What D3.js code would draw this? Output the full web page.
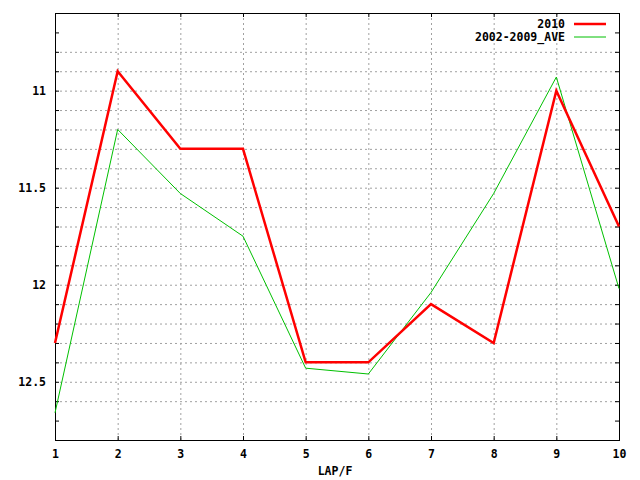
<!DOCTYPE html>
<html>
<head>
<meta charset="utf-8">
<script src="https://cdn.jsdelivr.net/npm/d3@7"></script>
<style>
  body { margin: 0; background: #fff; }
  text { font-family: "DejaVu Sans Mono", monospace; font-weight: bold; font-size: 11.5px; fill: #000; }
</style>
</head>
<body>
<svg id="chart" width="640" height="480"></svg>
<script>
var laps = [1, 2, 3, 4, 5, 6, 7, 8, 9, 10];
var series2010 = [12.3, 10.9, 11.3, 11.3, 12.4, 12.4, 12.1, 12.3, 11.0, 11.7];
var seriesAve = [12.66, 11.2, 11.53, 11.75, 12.43, 12.46, 12.04, 11.53, 10.93, 12.02];
var yTicks = [11, 11.5, 12, 12.5];
var seriesNames = ["2010", "2002-2009_AVE"];

var margin = {top: 13, right: 21, bottom: 40, left: 55},
    width = 640 - margin.left - margin.right,
    height = 480 - margin.top - margin.bottom;

var svg = d3.select("#chart");
var chart = svg.append("g")
    .attr("transform", "translate(" + margin.left + "," + margin.top + ")");

var x = d3.scaleLinear().domain([1, 10]).range([0, width]);
var y = d3.scaleLinear().domain([10.6, 12.8]).range([0, height]);

var minorTicks = d3.range(107, 128).map(function(d) { return d / 10; });

// grid
chart.append("g").selectAll("line.hgrid")
    .data(minorTicks.slice(1, -1))
    .enter().append("line")
    .attr("x1", 0).attr("x2", width)
    .attr("y1", function(d) { return y(d) + 0.5; })
    .attr("y2", function(d) { return y(d) + 0.5; })
    .attr("stroke", "#a0a0a0")
    .attr("stroke-dasharray", "2,3");

chart.append("g").selectAll("line.vgrid")
    .data(laps.slice(1, -1))
    .enter().append("line")
    .attr("x1", function(d) { return x(d) + 0.5; })
    .attr("x2", function(d) { return x(d) + 0.5; })
    .attr("y1", 0).attr("y2", height)
    .attr("stroke", "#a0a0a0")
    .attr("stroke-dasharray", "2,3");

// axes
var xBottom = chart.append("g").attr("transform", "translate(0," + height + ")")
    .call(d3.axisBottom(x).tickValues(laps).tickFormat(d3.format("d")).tickSizeInner(-4).tickSizeOuter(0).tickPadding(10));
var xTop = chart.append("g")
    .call(d3.axisTop(x).tickValues(laps).tickFormat("").tickSizeInner(-4).tickSizeOuter(0));
var yLeft = chart.append("g")
    .call(d3.axisLeft(y).tickValues(minorTicks).tickFormat(function(d) {
        return yTicks.indexOf(d) >= 0 ? d3.format("")(d) : "";
    }).tickSizeInner(-4).tickSizeOuter(0).tickPadding(9));
var yRight = chart.append("g").attr("transform", "translate(" + width + ",0)")
    .call(d3.axisRight(y).tickValues(minorTicks).tickFormat("").tickSizeInner(-4).tickSizeOuter(0));

[xBottom, xTop, yLeft, yRight].forEach(function(a) {
    a.select(".domain").remove();
    a.selectAll("line").attr("stroke", "#000");
    a.selectAll("text").style("font-family", "DejaVu Sans Mono, monospace").style("font-size", "11.5px").style("font-weight", "bold");
});

chart.append("rect")
    .attr("x", 0.5).attr("y", 0.5)
    .attr("width", width).attr("height", height)
    .attr("fill", "none").attr("stroke", "#000");

// lines
var line = d3.line()
    .x(function(d, i) { return x(laps[i]); })
    .y(function(d) { return y(d); });

chart.append("path").datum(seriesAve)
    .attr("d", line).attr("fill", "none")
    .attr("stroke", "#00c000").attr("stroke-width", 1);

chart.append("path").datum(series2010)
    .attr("d", line).attr("fill", "none")
    .attr("stroke", "#ff0000").attr("stroke-width", 2.5);

// legend
var legendColors = ["#ff0000", "#00c000"];
var legendWidths = [2.5, 1];
var legend = svg.append("g").selectAll("g")
    .data(seriesNames).enter().append("g")
    .attr("transform", function(d, i) { return "translate(0," + (24 + i * 13) + ")"; });
legend.append("text")
    .attr("x", 565).attr("dy", "0.35em")
    .attr("text-anchor", "end")
    .text(function(d) { return d; });
legend.append("line")
    .attr("x1", 574).attr("x2", 606)
    .attr("stroke", function(d, i) { return legendColors[i]; })
    .attr("stroke-width", function(d, i) { return legendWidths[i]; });

// axis title
svg.append("text")
    .attr("x", 335).attr("y", 475)
    .attr("text-anchor", "middle")
    .text("LAP/F");
</script>
</body>
</html>
